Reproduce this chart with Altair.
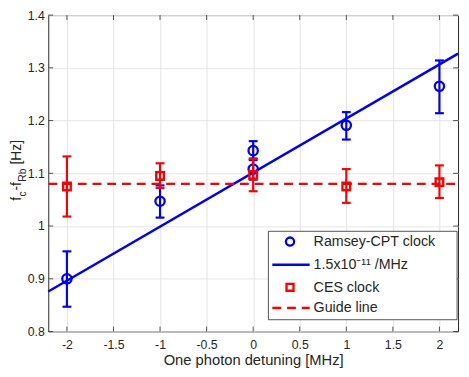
import altair as alt
import pandas as pd

# ---------------- data ----------------
ramsey_x = [-2, -1, 0, 0, 1, 2]
ramsey_y = [0.900, 1.047, 1.143, 1.108, 1.191, 1.265]
ramsey_lo = [0.847, 1.016, 1.125, 1.088, 1.164, 1.214]
ramsey_hi = [0.952, 1.077, 1.161, 1.128, 1.216, 1.314]

ces_x = [-2, -1, 0, 1, 2]
ces_y = [1.075, 1.095, 1.097, 1.075, 1.083]
ces_lo = [1.018, 1.072, 1.066, 1.044, 1.053]
ces_hi = [1.132, 1.119, 1.127, 1.108, 1.115]

fit_x = [-2.2, 2.2]
fit_y = [0.876, 1.327]

guide_x = [-2.2, 2.2]
guide_y = [1.08, 1.08]

x_ticks = [-2, -1.5, -1, -0.5, 0, 0.5, 1, 1.5, 2]
y_ticks = [0.8, 0.9, 1.0, 1.1, 1.2, 1.3, 1.4]

legend_labels = ["Ramsey-CPT clock", "1.5x10\u207b\u00b9\u00b9 /MHz", "CES clock", "Guide line"]
x_title = "One photon detuning [MHz]"
y_title_parts = ["f", "c", "-f", "Rb", "[Hz]"]

# ---------------- style ----------------
FONT = "Liberation Sans"
AX = "#262626"
BLUE = "#0000ff"
RED = "#ff0000"
W, H = 417, 322

xs = alt.Scale(domain=[-2.2, 2.2], nice=False, zero=False)
ys = alt.Scale(domain=[0.8, 1.4], nice=False, zero=False)

x_axis = alt.Axis(values=x_ticks, labelExpr="'' + datum.value", grid=True,
                  gridColor="#e3e3e3", gridWidth=1, tickSize=0, domain=False,
                  labelFont=FONT, labelFontSize=12.5, labelColor=AX, labelPadding=7,
                  title=x_title, titleFont=FONT, titleFontSize=15,
                  titleFontWeight="normal", titleColor=AX, titlePadding=2)
y_axis = alt.Axis(values=y_ticks, labelExpr="'' + datum.value", grid=True,
                  gridColor="#e3e3e3", gridWidth=1, tickSize=0, domain=False,
                  labelFont=FONT, labelFontSize=12.5, labelColor=AX, labelPadding=4,
                  title="")


def X(f):
    return alt.X(f + ":Q", scale=xs, axis=x_axis)


def Y(f):
    return alt.Y(f + ":Q", scale=ys, axis=y_axis)


ramsey = pd.DataFrame({"x": ramsey_x, "y": ramsey_y, "lo": ramsey_lo, "hi": ramsey_hi})
ces = pd.DataFrame({"x": ces_x, "y": ces_y, "lo": ces_lo, "hi": ces_hi})
fit = pd.DataFrame({"x": fit_x, "y": fit_y})
guide = pd.DataFrame({"x": guide_x, "y": guide_y})
xt = pd.DataFrame({"t": x_ticks})
yt = pd.DataFrame({"t": y_ticks})
one = pd.DataFrame({"a": [0]})

layers = []

# inward ticks (MATLAB style)
tk = dict(color=AX, strokeWidth=0.8)
layers.append(alt.Chart(xt).mark_rule(**tk).encode(x=X("t"), y=alt.value(H), y2=alt.value(H - 5)))
layers.append(alt.Chart(xt).mark_rule(**tk).encode(x=X("t"), y=alt.value(0), y2=alt.value(5)))
layers.append(alt.Chart(yt).mark_rule(**tk).encode(y=Y("t"), x=alt.value(0), x2=alt.value(5)))
layers.append(alt.Chart(yt).mark_rule(**tk).encode(y=Y("t"), x=alt.value(W), x2=alt.value(W - 5)))


def errorbars(df, color):
    out = []
    out.append(alt.Chart(df).mark_rule(color=color, strokeWidth=2.2).encode(
        x=X("x"), y=Y("lo"), y2=alt.Y2("hi:Q")))
    for f in ["lo", "hi"]:
        out.append(alt.Chart(df).mark_rule(color=color, strokeWidth=2.2,
                                           xOffset=-4.5, x2Offset=4.5).encode(
            x=X("x"), x2=alt.X2("x:Q"), y=Y(f)))
    return out


# Ramsey-CPT
layers += errorbars(ramsey, BLUE)
layers.append(alt.Chart(ramsey).mark_point(shape="circle", filled=False, size=90,
                                           strokeWidth=2.3, color=BLUE, opacity=1).encode(
    x=X("x"), y=Y("y")))
# fit line
layers.append(alt.Chart(fit).mark_line(color=BLUE, strokeWidth=2.5).encode(x=X("x"), y=Y("y")))
# CES
layers += errorbars(ces, RED)
layers.append(alt.Chart(ces).mark_point(shape="square", filled=False, size=60,
                                        strokeWidth=2.4, color=RED, opacity=1).encode(
    x=X("x"), y=Y("y")))
# guide line
layers.append(alt.Chart(guide).mark_line(color=RED, strokeWidth=2.5, strokeDash=[9, 6]).encode(
    x=X("x"), y=Y("y")))

# ---------------- legend (drawn) ----------------
LX0, LX1, LY0, LY1 = 224, 416, 220, 310
rows = [230.5, 254, 277, 298]
sym_x = 246
line_x0, line_x1 = 228, 266
text_x = 270
layers.append(alt.Chart(one).mark_rect(fill="white", stroke=AX, strokeWidth=0.8).encode(
    x=alt.value(LX0), x2=alt.value(LX1), y=alt.value(LY0), y2=alt.value(LY1)))
layers.append(alt.Chart(one).mark_point(shape="circle", filled=False, size=70, strokeWidth=2.3,
                                        color=BLUE, opacity=1).encode(
    x=alt.value(sym_x), y=alt.value(rows[0])))
layers.append(alt.Chart(one).mark_rule(color=BLUE, strokeWidth=2.5).encode(
    x=alt.value(line_x0), x2=alt.value(line_x1), y=alt.value(rows[1])))
layers.append(alt.Chart(one).mark_point(shape="square", filled=False, size=50, strokeWidth=2.4,
                                        color=RED, opacity=1).encode(
    x=alt.value(sym_x), y=alt.value(rows[2])))
layers.append(alt.Chart(one).mark_rule(color=RED, strokeWidth=2.5, strokeDash=[9, 6]).encode(
    x=alt.value(line_x0), x2=alt.value(line_x1), y=alt.value(rows[3])))
for lab, ry in zip(legend_labels, rows):
    layers.append(alt.Chart(one).mark_text(text=lab, font=FONT, fontSize=14.5, color=AX,
                                           align="left", baseline="middle").encode(
        x=alt.value(text_x), y=alt.value(ry + 0.5)))

# ---------------- y title with subscripts ----------------
yt_pos = [(-32, 189, 14), (-25.5, 184.5, 10.5), (-32, 178.5, 14), (-25.5, 169.5, 10.5), (-32, 152, 14)]
for part, (px, py, fs) in zip(y_title_parts, yt_pos):
    layers.append(alt.Chart(one).mark_text(text=part, font=FONT, fontSize=fs, color=AX,
                                           align="left", baseline="middle", angle=270).encode(
        x=alt.value(px), y=alt.value(py)))

chart = alt.layer(*layers).properties(
    width=W, height=H,
    autosize=alt.AutoSizeParams(type="none"),
    padding={"left": 41, "top": 4, "right": 3, "bottom": 40},
).configure_view(stroke=AX, strokeWidth=1)

chart.save("out.html", embed_options={"renderer": "svg", "actions": False})
